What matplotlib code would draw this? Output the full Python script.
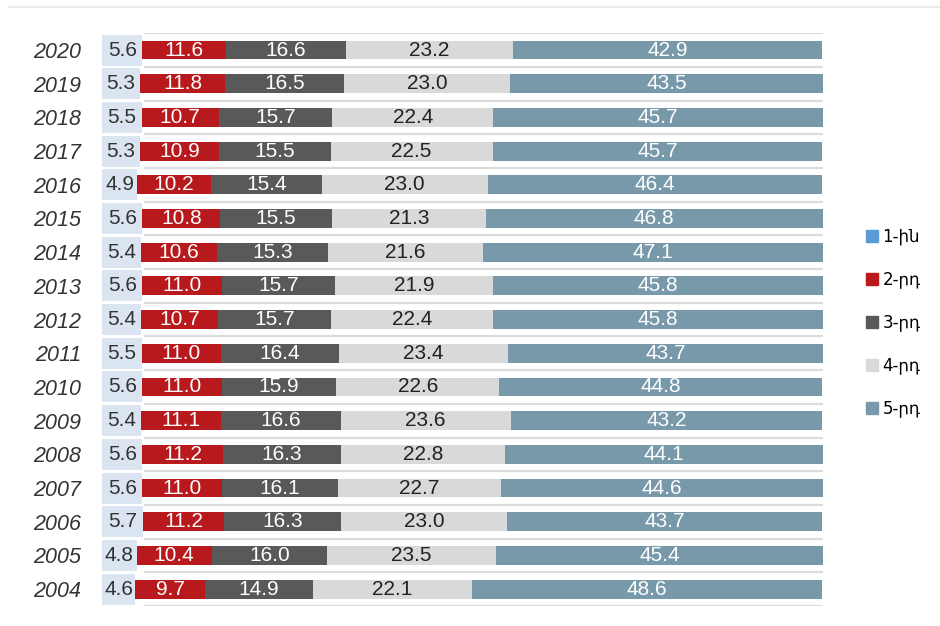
import matplotlib.pyplot as plt
import matplotlib.lines as mlines

years = ['2020', '2019', '2018', '2017', '2016', '2015', '2014', '2013', '2012',
         '2011', '2010', '2009', '2008', '2007', '2006', '2005', '2004']
q1 = [5.6, 5.3, 5.5, 5.3, 4.9, 5.6, 5.4, 5.6, 5.4, 5.5, 5.6, 5.4, 5.6, 5.6, 5.7, 4.8, 4.6]
q2 = [11.6, 11.8, 10.7, 10.9, 10.2, 10.8, 10.6, 11.0, 10.7, 11.0, 11.0, 11.1, 11.2, 11.0, 11.2, 10.4, 9.7]
q3 = [16.6, 16.5, 15.7, 15.5, 15.4, 15.5, 15.3, 15.7, 15.7, 16.4, 15.9, 16.6, 16.3, 16.1, 16.3, 16.0, 14.9]
q4 = [23.2, 23.0, 22.4, 22.5, 23.0, 21.3, 21.6, 21.9, 22.4, 23.4, 22.6, 23.6, 22.8, 22.7, 23.0, 23.5, 22.1]
q5 = [42.9, 43.5, 45.7, 45.7, 46.4, 46.8, 47.1, 45.8, 45.8, 43.7, 44.8, 43.2, 44.1, 44.6, 43.7, 45.4, 48.6]
legend_labels = ['1-ին', '2-րդ', '3-րդ', '4-րդ', '5-րդ']

cell_color = '#dbe5f1'
colors = ['#5b9bd5', '#b7191c', '#595959', '#d9d9d9', '#7899a9']
text_colors = ['#333333', 'white', 'white', '#222222', 'white']
num_font = ['Liberation Sans', 'DejaVu Sans']

fig = plt.figure(figsize=(9.4, 6.26), dpi=100)
ax = fig.add_axes([0.1085, 0.032, 0.767, 0.915])

n = len(years)
ypos = list(range(n - 1, -1, -1))
series = [q1, q2, q3, q4, q5]

# lignes entre les rangées
for k in range(n + 1):
    ax.axhline(k - 0.5, xmin=0.06, xmax=1.0, color='#dcdcdc', lw=1.6, zorder=0)

left = [0.0] * n
for i, vals in enumerate(series):
    if i == 0:
        ax.barh(ypos, vals, left=left, height=0.92, color=cell_color, zorder=2)
    else:
        ax.barh(ypos, vals, left=left, height=0.56, color=colors[i], zorder=2)
    for j in range(n):
        ax.text(left[j] + vals[j] / 2, ypos[j], f'{vals[j]:.1f}', ha='center', va='center',
                color=text_colors[i], fontsize=15, family=num_font, zorder=3)
    left = [a + b for a, b in zip(left, vals)]

ax.set_xlim(0, 100)
ax.set_ylim(-0.5, n - 0.5)
ax.set_yticks(ypos)
ax.set_yticklabels(years, fontsize=15.5, style='italic', color='#333333', family=num_font)
ax.tick_params(axis='y', length=0, pad=15)
ax.set_xticks([])
for s in ax.spines.values():
    s.set_visible(False)

handles = [mlines.Line2D([], [], marker='s', linestyle='none', markersize=9,
                         markerfacecolor=c, markeredgecolor=c) for c in colors]
fig.legend(handles, legend_labels, loc='center left', bbox_to_anchor=(0.905, 0.485),
           frameon=False, labelspacing=1.5, handlelength=0.8,
           handletextpad=0.2, prop={'family': ['DejaVu Sans'], 'size': 12})

fig.add_artist(mlines.Line2D([0.01, 1.0], [0.989, 0.989], color='#e8e8e8', lw=1.2,
                             transform=fig.transFigure))

fig.savefig('out.png', dpi=100)
